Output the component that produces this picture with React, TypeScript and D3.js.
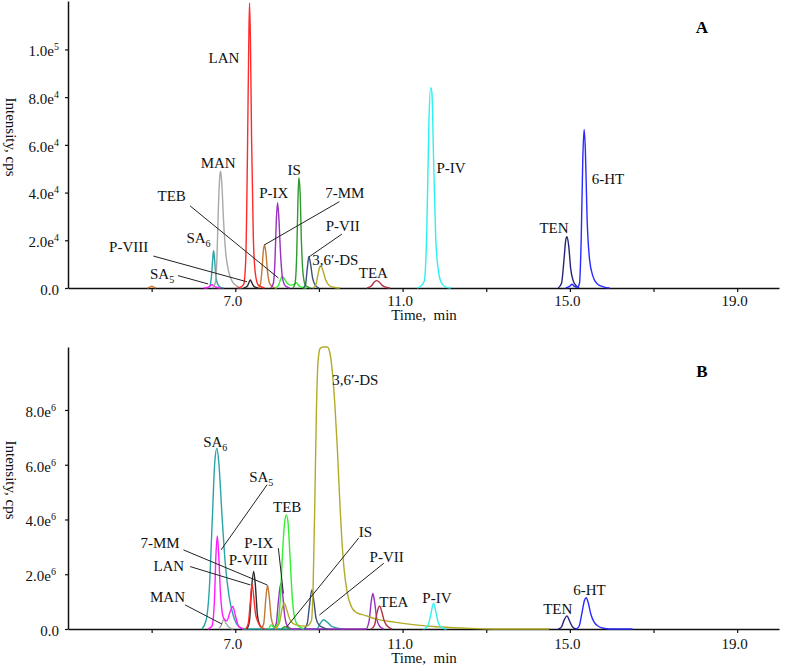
import React, { useEffect, useRef } from "react"
import * as d3 from "d3"

type Pt = [number, number]
type Label = [string, number, number]
type Leader = [number, number, number, number]

// ---- panel A (standards), intensity in 1e3 cps ----
const aX5: Pt[] = [[4.9, 0], [4.97, 0.5], [5.0, 0.8], [5.04, 0.5], [5.1, 0]]
const aSA5: Pt[] = [[6.25, 0], [6.35, 0.3], [6.4, 0.9], [6.44, 1.5], [6.48, 0.9], [6.55, 0.3], [6.65, 0]]
const aSA6: Pt[] = [[6.33, 0], [6.39, 0.8], [6.43, 5], [6.46, 12], [6.48, 15.6], [6.5, 13], [6.53, 6], [6.57, 2], [6.63, 0.5], [6.72, 0]]
const aMAN: Pt[] = [[6.45, 0], [6.52, 2], [6.56, 12], [6.6, 36], [6.63, 47], [6.65, 49], [6.68, 43], [6.72, 28], [6.77, 15], [6.84, 7], [6.92, 3], [7.02, 1], [7.15, 0]]
const aLAN: Pt[] = [[7.05, 0], [7.12, 0.3], [7.2, 1.5], [7.25, 12], [7.29, 55], [7.32, 100], [7.34, 119.5], [7.36, 106], [7.39, 62], [7.43, 22], [7.48, 6], [7.55, 1.2], [7.7, 0]]
const aPVIII: Pt[] = [[7.2, 0], [7.28, 0.6], [7.33, 2.4], [7.36, 3.4], [7.4, 2], [7.45, 0.6], [7.55, 0]]
const a7MM: Pt[] = [[7.55, 0], [7.6, 1.5], [7.64, 8], [7.67, 15.5], [7.7, 18], [7.73, 15], [7.77, 7], [7.82, 2], [7.9, 0.4], [8.0, 0]]
const aPIX: Pt[] = [[7.85, 0], [7.91, 2], [7.95, 12], [7.98, 28], [8.01, 35.8], [8.04, 30], [8.08, 15], [8.13, 4], [8.2, 0.8], [8.3, 0]]
const aTEB: Pt[] = [[7.95, 0], [8.03, 1], [8.08, 3.5], [8.12, 4.8], [8.17, 4], [8.24, 2], [8.32, 1.2], [8.4, 1.5], [8.46, 2.2], [8.52, 1], [8.6, 0.3], [8.7, 0]]
const aIS: Pt[] = [[8.38, 0], [8.43, 2], [8.47, 15], [8.5, 38], [8.52, 46.2], [8.55, 40], [8.58, 20], [8.62, 6], [8.68, 1], [8.8, 0]]
const aPVII: Pt[] = [[8.62, 0], [8.68, 1.5], [8.72, 8], [8.76, 13.1], [8.8, 10], [8.85, 4], [8.92, 1], [9.0, 0]]
const aDS: Pt[] = [[8.85, 0], [8.92, 1], [8.97, 5], [9.02, 8.8], [9.05, 9.2], [9.1, 7], [9.16, 3.5], [9.24, 1.2], [9.35, 0.3], [9.5, 0]]
const aTEA: Pt[] = [[10.15, 0], [10.25, 0.8], [10.33, 2.6], [10.38, 3.1], [10.44, 2.5], [10.52, 1], [10.62, 0.2], [10.7, 0]]
const aPIV: Pt[] = [[11.35, 0], [11.45, 1], [11.52, 3], [11.58, 25], [11.63, 70], [11.67, 84], [11.7, 82], [11.74, 55], [11.79, 22], [11.85, 8], [11.92, 2.5], [12.02, 0.5], [12.15, 0]]
const aTEN: Pt[] = [[14.72, 0], [14.8, 2], [14.86, 12], [14.9, 20], [14.93, 21.5], [14.97, 18], [15.02, 8], [15.08, 3], [15.15, 1], [15.22, 0]]
const a6HT: Pt[] = [[14.9, 0], [15.0, 0.8], [15.05, 1.6], [15.1, 0.8], [15.18, 0.3], [15.23, 2], [15.27, 20], [15.31, 55], [15.34, 66.5], [15.37, 58], [15.41, 30], [15.47, 12], [15.55, 5], [15.65, 1.8], [15.8, 0.5], [15.95, 0]]

const aTicks = [0, 20, 40, 60, 80, 100]

const aLabels: Label[] = [
    ["LAN", 6.73, 94.3], ["MAN", 6.59, 50.3], ["SA_6", 6.12, 18.9], ["TEB", 5.48, 36.5],
    ["P-VIII", 4.45, 15.1], ["SA_5", 5.25, 3.8], ["P-IX", 7.92, 37.7], ["IS", 8.41, 47.4],
    ["7-MM", 9.62, 37.7], ["P-VII", 9.57, 23.9], ["3,6′-DS", 9.39, 9.6], ["TEA", 10.3, 4.2],
    ["P-IV", 12.16, 48.2], ["TEN", 14.62, 23], ["6-HT", 15.91, 43.6],
]
const aLeaders: Leader[] = [
    [5.04, 13.4, 7.28, 2.6], [5.63, 5.2, 6.35, 1.7], [5.92, 34.4, 8.03, 4.2],
    [9.49, 36.2, 7.69, 18.0], [9.55, 22.6, 8.75, 12.9],
]

// ---- panel B (sample), intensity in 1e6 cps ----
const bSA6: Pt[] = [[6.2, 0], [6.3, 0.3], [6.38, 1.5], [6.45, 4], [6.51, 6.1], [6.56, 6.6], [6.61, 6], [6.68, 4.2], [6.76, 2.4], [6.85, 1.2], [6.95, 0.5], [7.05, 0.15], [7.2, 0], [8.95, 0], [9.03, 0.2], [9.11, 0.34], [9.2, 0.25], [9.3, 0.1], [9.45, 0.03], [9.6, 0]]
const bSA5: Pt[] = [[6.35, 0], [6.44, 0.1], [6.5, 1], [6.54, 2.8], [6.57, 3.4], [6.6, 2.8], [6.65, 1.2], [6.72, 0.4], [6.8, 0.3], [6.87, 0.6], [6.94, 0.82], [7.0, 0.5], [7.08, 0.1], [7.2, 0]]
const bMAN: Pt[] = [[6.6, 0], [6.67, 0.15], [6.72, 0.35], [6.78, 0.2], [6.86, 0.05], [6.95, 0]]
const bLAN: Pt[] = [[7.25, 0], [7.31, 0.2], [7.36, 1.0], [7.4, 1.64], [7.44, 1.2], [7.48, 0.6], [7.53, 0.3], [7.6, 0.1], [7.7, 0]]
const bPVIII: Pt[] = [[7.28, 0], [7.34, 0.3], [7.39, 1.5], [7.44, 2.1], [7.48, 1.6], [7.53, 0.5], [7.6, 0.1], [7.68, 0]]
const b7MM: Pt[] = [[7.62, 0], [7.68, 0.2], [7.73, 1.1], [7.77, 1.6], [7.81, 1.2], [7.86, 0.4], [7.92, 0.1], [8.0, 0]]
const bPIX: Pt[] = [[7.92, 0], [7.98, 0.2], [8.03, 1], [8.09, 1.67], [8.13, 1.3], [8.18, 0.5], [8.25, 0.1], [8.35, 0], [10.12, 0], [10.2, 0.3], [10.25, 1.0], [10.29, 1.3], [10.33, 1.0], [10.38, 0.4], [10.45, 0.1], [10.55, 0]]
const bTEB: Pt[] = [[7.8, 0], [7.86, 0.15], [7.93, 0.05], [8.02, 0.2], [8.08, 1.2], [8.13, 2.8], [8.18, 3.9], [8.22, 4.17], [8.26, 3.9], [8.31, 2.6], [8.36, 1.2], [8.42, 0.4], [8.5, 0.12], [8.65, 0]]
const bIS: Pt[] = [[8.1, 0], [8.2, 0.08], [8.3, 0]]
const bPVII: Pt[] = [[8.65, 0], [8.72, 0.2], [8.77, 0.8], [8.83, 1.43], [8.88, 1.0], [8.93, 0.4], [9.0, 0.15], [9.1, 0.05], [9.2, 0]]
const bDS: Pt[] = [[7.95, 0], [8.05, 0.2], [8.12, 0.75], [8.17, 0.95], [8.23, 0.7], [8.32, 0.3], [8.45, 0.15], [8.7, 0.1], [8.82, 0.3], [8.86, 1.5], [8.9, 4.5], [8.94, 8], [8.98, 9.8], [9.03, 10.25], [9.1, 10.3], [9.2, 10.3], [9.26, 10.1], [9.32, 9.4], [9.38, 8.2], [9.44, 6.6], [9.5, 4.6], [9.55, 3.2], [9.6, 2.2], [9.68, 1.3], [9.78, 0.8], [9.9, 0.6], [10.1, 0.5], [10.4, 0.35], [10.8, 0.25], [11.3, 0.15], [11.8, 0.08], [12.5, 0.03], [13.2, 0], [14.5, 0]]
const bTEA: Pt[] = [[10.25, 0], [10.33, 0.15], [10.39, 0.6], [10.45, 0.84], [10.5, 0.65], [10.56, 0.3], [10.64, 0.1], [10.75, 0]]
const bPIV: Pt[] = [[11.5, 0], [11.6, 0.1], [11.67, 0.5], [11.74, 0.94], [11.8, 0.6], [11.86, 0.2], [11.95, 0.04], [12.05, 0]]
const bTEN: Pt[] = [[14.72, 0], [14.8, 0.08], [14.87, 0.35], [14.93, 0.48], [14.99, 0.3], [15.06, 0.08], [15.15, 0]]
const b6HT: Pt[] = [[15.15, 0], [15.22, 0.1], [15.29, 0.6], [15.35, 1.05], [15.39, 1.14], [15.44, 0.95], [15.5, 0.55], [15.58, 0.25], [15.68, 0.1], [15.8, 0.03], [15.95, 0], [16.5, 0]]

const bTicks = [0, 2, 4, 6, 8]

const bLabels: Label[] = [
    ["3,6′-DS", 9.87, 8.92], ["SA_6", 6.52, 6.65], ["SA_5", 7.62, 5.37], ["TEB", 8.24, 4.28],
    ["7-MM", 5.2, 2.96], ["LAN", 5.41, 2.12], ["P-VIII", 7.31, 2.34], ["P-IX", 7.56, 2.96],
    ["IS", 10.11, 3.36], ["P-VII", 10.62, 2.45], ["MAN", 5.38, 0.99], ["TEA", 10.79, 0.8],
    ["P-IV", 11.82, 0.95], ["TEN", 14.71, 0.55], ["6-HT", 15.47, 1.24],
]
const bLeaders: Leader[] = [
    [7.76, 5.27, 6.66, 2.89], [5.76, 2.89, 7.76, 1.61], [5.92, 2.28, 7.36, 1.61],
    [8.03, 2.95, 8.15, 1.3], [9.95, 3.32, 8.23, 0.08], [10.55, 2.4, 9.01, 0.51],
    [5.8, 0.88, 6.68, 0.18],
]

const xTicks = [5, 7, 9, 11, 13, 15, 17, 19]
const xLabelled = [7, 11, 15, 19]

const colors: Record<string, string> = {
    X5: "#d2782a",
    SA5: "#ff1cff",
    SA6: "#2aa3a6",
    MAN: "#a9a9a9",
    LAN: "#ff2a2a",
    PVIII: "#2b2b2b",
    "7MM": "#c07a35",
    PIX: "#9a2fc0",
    TEB: "#33ee33",
    IS: "#2f9a2f",
    PVII: "#3d4f7c",
    DS: "#b2ab28",
    TEA: "#b03346",
    PIV: "#2ff0f0",
    TEN: "#24247a",
    "6HT": "#2a2aff",
}

const FONT = "'Liberation Serif', 'Times New Roman', serif"

interface PanelCfg {
    traces: [string, Pt[]][]
    unit: number
    yMax: number
    ticks: number[]
    top: number
    bottom: number
    labels: Label[]
    leaders: Leader[]
    title: string
    titleY: number
    tickLabelOff: number
    xPad: number
    xTitleY: number
    yTitleY: number
}

const panels: PanelCfg[] = [
    {
        traces: [["X5", aX5], ["SA6", aSA6], ["SA5", aSA5], ["MAN", aMAN], ["PVIII", aPVIII], ["7MM", a7MM], ["TEB", aTEB], ["PIX", aPIX], ["IS", aIS], ["PVII", aPVII], ["DS", aDS], ["TEA", aTEA], ["PIV", aPIV], ["TEN", aTEN], ["6HT", a6HT], ["LAN", aLAN]],
        unit: 1e3, yMax: 120.3e3, ticks: aTicks, top: 1, bottom: 288,
        labels: aLabels, leaders: aLeaders, title: "A", titleY: 33, tickLabelOff: 0,
        xPad: 3, xTitleY: 320, yTitleY: 137,
    },
    {
        traces: [["SA6", bSA6], ["MAN", bMAN], ["SA5", bSA5], ["PVIII", bPVIII], ["LAN", bLAN], ["7MM", b7MM], ["PIX", bPIX], ["IS", bIS], ["TEB", bTEB], ["PVII", bPVII], ["DS", bDS], ["TEA", bTEA], ["PIV", bPIV], ["TEN", bTEN], ["6HT", b6HT]],
        unit: 1e6, yMax: 10.3e6, ticks: bTicks, top: 347, bottom: 629,
        labels: bLabels, leaders: bLeaders, title: "B", titleY: 377, tickLabelOff: -3,
        xPad: 5, xTitleY: 663, yTitleY: 480,
    },
]

const writeName = (sel: d3.Selection<SVGTextElement, unknown, null, undefined>, name: string) => {
    const [main, sub] = name.split("_")
    sel.append("tspan").text(main)
    if (sub) sel.append("tspan").attr("dy", 4).attr("font-size", 10).text(sub)
}

export default function App() {
    const ref = useRef<SVGSVGElement>(null)

    useEffect(() => {
        if (!ref.current) return
        const svg = d3.select(ref.current)
        svg.selectAll("*").remove()

        const x = d3.scaleLinear().domain([3, 20]).range([68, 779])

        panels.forEach((p) => {
            const y = d3.scaleLinear().domain([0, p.yMax]).range([p.bottom, p.top])
            const g = svg.append("g")

            const line = d3
                .line<Pt>()
                .x((d) => x(d[0]))
                .y((d) => y(d[1] * p.unit))
                .curve(d3.curveMonotoneX)

            // axes
            const xAxis = g
                .append("g")
                .attr("transform", `translate(0,${p.bottom})`)
                .call(
                    d3.axisBottom(x)
                        .tickValues(xTicks)
                        .tickSize(4)
                        .tickSizeOuter(0)
                        .tickPadding(p.xPad)
                        .tickFormat((d) => (xLabelled.includes(+d) ? (+d).toFixed(1) : ""))
                )
            xAxis.selectAll("text").attr("dx", -3).attr("font-size", 15).attr("font-family", FONT).attr("fill", "#111")

            const yAxis = g
                .append("g")
                .attr("transform", `translate(${x(3)},0)`)
                .call(d3.axisLeft(y).tickValues(p.ticks.map((t) => t * p.unit)).tickSize(3).tickSizeOuter(0).tickPadding(6))
            yAxis.selectAll<SVGTextElement, number>("text").each(function (d) {
                const t = d3.select(this)
                t.text(null).attr("font-size", 15).attr("font-family", FONT).attr("fill", "#111").attr("dy", "0.42em")
                if (d === 0) {
                    t.text("0.0")
                    return
                }
                const e = Math.floor(Math.log10(d) + 1e-9)
                t.attr("dx", p.tickLabelOff)
                t.append("tspan").text((d / 10 ** e).toFixed(1) + "e")
                t.append("tspan").attr("dy", -6).attr("font-size", 10).text(String(e))
            })
            ;[xAxis, yAxis].forEach((a) => {
                a.select(".domain").attr("stroke", "#111").attr("stroke-width", 1.5)
                a.selectAll(".tick line").attr("stroke", "#111").attr("stroke-width", 1.2)
            })

            // traces
            g.append("g")
                .selectAll("path")
                .data(p.traces)
                .enter()
                .append("path")
                .attr("d", (d) => line(d[1]))
                .attr("fill", "none")
                .attr("stroke", (d) => colors[d[0]])
                .attr("stroke-width", 1.4)
                .attr("stroke-linejoin", "round")

            // leader lines
            g.append("g")
                .selectAll("line")
                .data(p.leaders)
                .enter()
                .append("line")
                .attr("x1", (d) => x(d[0]))
                .attr("y1", (d) => y(d[1] * p.unit))
                .attr("x2", (d) => x(d[2]))
                .attr("y2", (d) => y(d[3] * p.unit))
                .attr("stroke", "#222")
                .attr("stroke-width", 1)

            // peak names
            p.labels.forEach(([name, t, v]) => {
                const txt = g
                    .append("text")
                    .attr("x", x(t))
                    .attr("y", y(v * p.unit))
                    .attr("text-anchor", "middle")
                    .attr("font-family", FONT)
                    .attr("font-size", 15)
                    .attr("fill", "#111")
                writeName(txt, name)
            })

            g.append("text")
                .attr("x", 702)
                .attr("y", p.titleY)
                .attr("text-anchor", "middle")
                .attr("font-family", FONT)
                .attr("font-weight", "bold")
                .attr("font-size", 17)
                .text(p.title)

            g.append("text")
                .attr("x", 424)
                .attr("y", p.xTitleY)
                .attr("text-anchor", "middle")
                .attr("font-family", FONT)
                .attr("font-size", 15)
                .attr("fill", "#111")
                .text("Time,\u00a0 min")

            g.append("text")
                .attr("transform", `translate(6,${p.yTitleY}) rotate(90)`)
                .attr("text-anchor", "middle")
                .attr("font-family", FONT)
                .attr("font-size", 15)
                .attr("fill", "#111")
                .text("Intensity, cps")
        })
    }, [])

    return (
        <div style={{ position: "absolute", left: 0, top: 0, background: "#fff" }}>
            <svg ref={ref} width={787} height={668} style={{ display: "block" }} />
        </div>
    )
}
